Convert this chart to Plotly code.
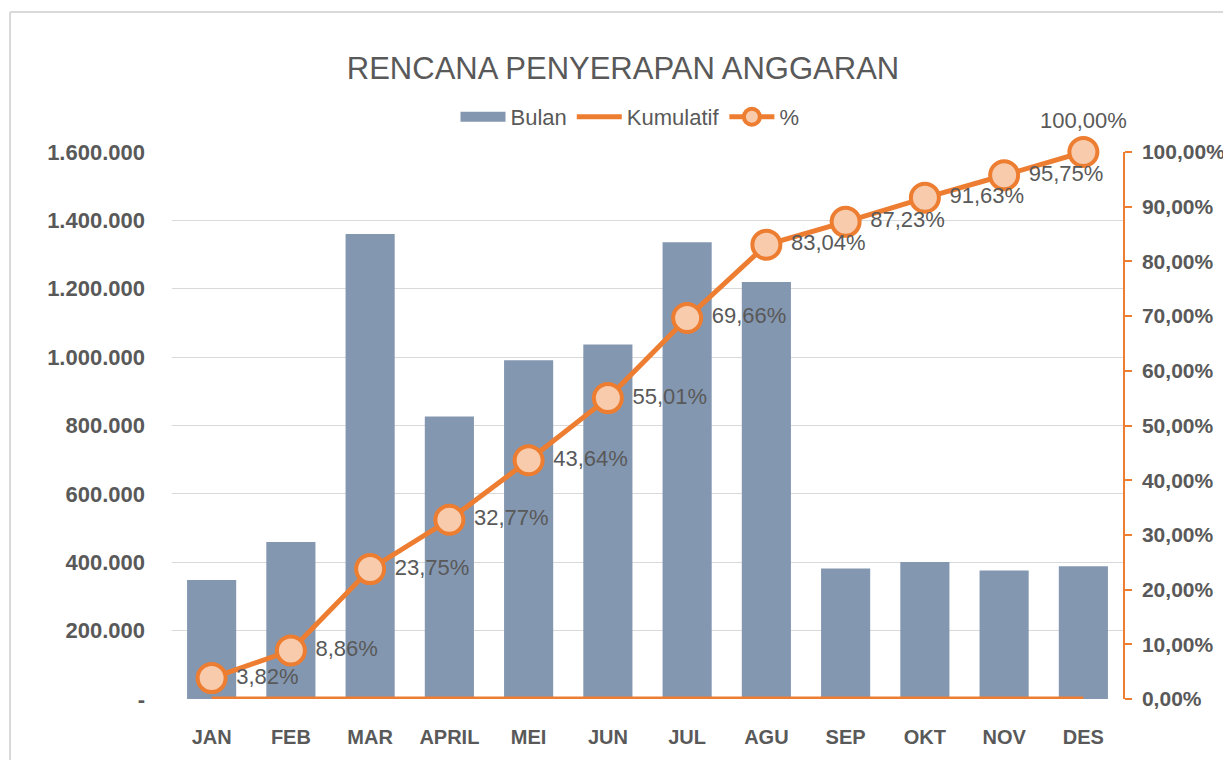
import plotly.graph_objects as go

months = ["JAN", "FEB", "MAR", "APRIL", "MEI", "JUN", "JUL", "AGU", "SEP", "OKT", "NOV", "DES"]
bulan = [348000, 459000, 1360000, 826000, 991000, 1037000, 1336000, 1220000, 382000, 401000, 376000, 388000]
kumulatif = [0, 0, 0, 0, 0, 0, 0, 0, 0, 0, 0, 0]
persen = [3.82, 8.86, 23.75, 32.77, 43.64, 55.01, 69.66, 83.04, 87.23, 91.63, 95.75, 100.00]

left_ticks = [0, 200000, 400000, 600000, 800000, 1000000, 1200000, 1400000, 1600000]
right_ticks = [0, 10, 20, 30, 40, 50, 60, 70, 80, 90, 100]

GREY = "#595959"
ORANGE = "#ED7D31"
BAR = "#8497B0"
FONT = "Liberation Sans, Arial, sans-serif"

W, H = 1223, 752  # page body has an 8px margin

def fmt_thousands(v):
    return "-" if v == 0 else f"{v:,}".replace(",", ".")

def fmt_pct(v):
    return f"{v:.2f}".replace(".", ",") + "%"

fig = go.Figure()
fig.add_trace(go.Bar(
    x=months, y=bulan, name="Bulan", marker=dict(color=BAR, line=dict(width=0)),
    showlegend=False,
))
# legend-only entry to get a wide rectangular swatch for the bars
fig.add_trace(go.Scatter(
    x=[None], y=[None], name="Bulan", mode="lines",
    line=dict(color=BAR, width=14), hoverinfo="skip",
))
fig.add_trace(go.Scatter(
    x=months, y=kumulatif, name="Kumulatif", mode="lines",
    line=dict(color=ORANGE, width=5),
))
positions = ["middle right"] * (len(persen) - 1) + ["top center"]
labels = ["\u00a0" + fmt_pct(p) for p in persen[:-1]] + [fmt_pct(persen[-1])]
fig.add_trace(go.Scatter(
    x=months, y=[p / 100 for p in persen], name="%", mode="lines+markers+text",
    yaxis="y2",
    line=dict(color=ORANGE, width=5),
    marker=dict(size=28, color="#F8CBAD", line=dict(color=ORANGE, width=4)),
    text=labels, textposition=positions,
    textfont=dict(family=FONT, size=22, color=GREY),
    cliponaxis=False,
))

# chart border (decoration)
fig.add_shape(type="line", xref="paper", yref="paper", x0=-0.1703, x1=-0.1703, y0=-0.2, y1=1.2559,
              line=dict(color="#D9D9D9", width=2))
fig.add_shape(type="line", xref="paper", yref="paper", x0=-0.1703, x1=1.2, y0=1.2559, y1=1.2559,
              line=dict(color="#D9D9D9", width=2))

fig.update_layout(
    width=W, height=H,
    margin=dict(l=164, r=108, t=144, b=61, autoexpand=False),
    paper_bgcolor="white", plot_bgcolor="white",
    bargap=0.38,
    showlegend=True,
    title=dict(text="RENCANA PENYERAPAN ANGGARAN", x=615 / W, xref="container", xanchor="center",
               y=1 - 60 / H, yref="container", yanchor="middle",
               font=dict(family=FONT, size=31, color=GREY)),
    legend=dict(orientation="h", x=622 / W, xref="container", xanchor="center",
                y=1 - 109 / H, yref="container", yanchor="middle",
                font=dict(family=FONT, size=22, color=GREY), itemwidth=45,
                bgcolor="rgba(0,0,0,0)"),
    xaxis=dict(type="category", range=[-0.5, len(months) - 0.5],
               showgrid=False, showline=False, ticks="", automargin=False,
               tickfont=dict(family=FONT, size=20, color=GREY, weight="bold"),
               ticklabelstandoff=24),
    yaxis=dict(range=[0, 1600000], tickvals=left_ticks, ticktext=[fmt_thousands(v) for v in left_ticks],
               showgrid=True, gridcolor="#D9D9D9", gridwidth=1, zeroline=False, showline=False, ticks="",
               automargin=False,
               tickfont=dict(family=FONT, size=22, color=GREY, weight="bold"),
               ticklabelstandoff=26),
    yaxis2=dict(overlaying="y", side="right", range=[0, 1], automargin=False,
                tickvals=[t / 100 for t in right_ticks], ticktext=[fmt_pct(t) for t in right_ticks],
                showgrid=False, zeroline=False, showline=True, linecolor=ORANGE, linewidth=1.5,
                ticks="outside", ticklen=7, tickcolor=ORANGE, tickwidth=1.5,
                tickfont=dict(family=FONT, size=21, color=GREY, weight="bold"),
                ticklabelstandoff=6),
)

fig.write_html("out.html")
